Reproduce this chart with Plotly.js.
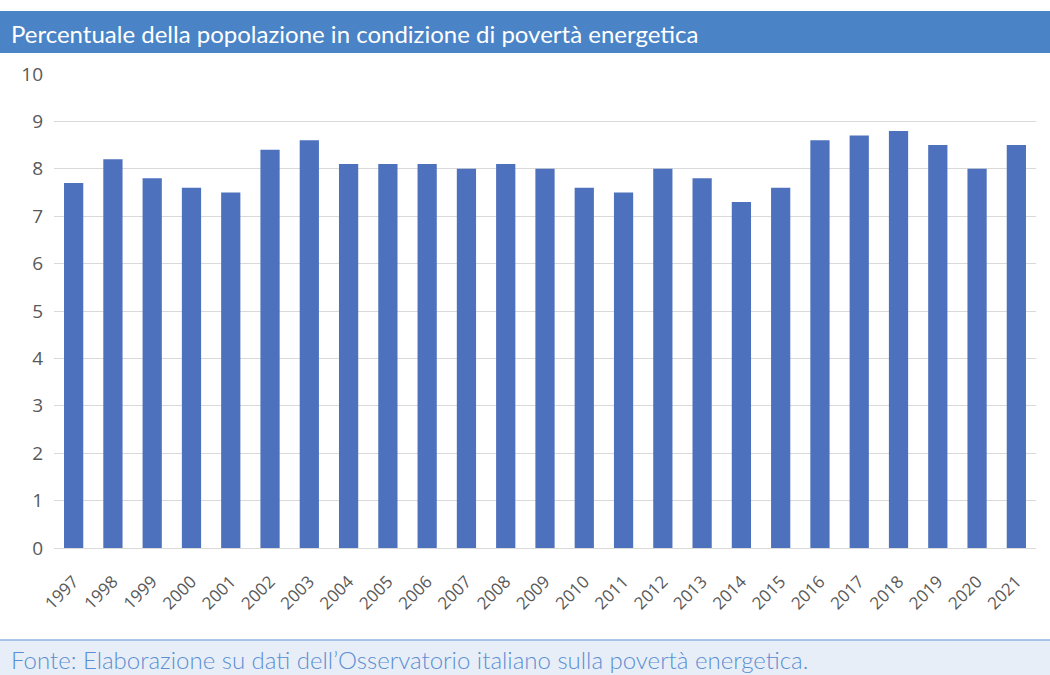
<!DOCTYPE html>
<html>
<head>
<meta charset="utf-8">
<script src="https://cdn.plot.ly/plotly-3.0.1.min.js"></script>
<style>
  html, body { margin: 0; padding: 0; background: #ffffff; }
  #chart { width: 1050px; height: 675px; }
</style>
</head>
<body>
<div id="chart"></div>
<script>
// Anni e percentuale della popolazione in povertà energetica
const years = ['1997','1998','1999','2000','2001','2002','2003','2004','2005','2006',
               '2007','2008','2009','2010','2011','2012','2013','2014','2015','2016',
               '2017','2018','2019','2020','2021'];
const shares = [7.7, 8.2, 7.8, 7.6, 7.5, 8.4, 8.6, 8.1, 8.1, 8.1,
                8.0, 8.1, 8.0, 7.6, 7.5, 8.0, 7.8, 7.3, 7.6, 8.6,
                8.7, 8.8, 8.5, 8.0, 8.5];
const yTicks = [0, 1, 2, 3, 4, 5, 6, 7, 8, 9, 10];

const titleText = 'Percentuale della popolazione in condizione di povertà energetica';
const sourceText = 'Fonte: Elaborazione su dati dell\u2019Osservatorio italiano sulla povertà energetica.';

// plot area in pixels: x 54..1036, y 74..548
const W = 1050, H = 675, L = 54, R = 14, T = 74, B = 127;
const pw = W - L - R, ph = H - T - B;
const px = x => (x - L) / pw;
const py = y => (H - B - y) / ph;

const trace = {
  type: 'bar',
  x: years,
  y: shares,
  marker: { color: '#4e71be', line: { width: 0 } },
  hoverinfo: 'x+y'
};

const layout = {
  width: W,
  height: H,
  margin: { l: L, r: R, t: T, b: B, pad: 0 },
  paper_bgcolor: '#ffffff',
  plot_bgcolor: '#ffffff',
  showlegend: false,
  bargap: 0.51,
  font: { family: 'Open Sans, sans-serif', color: '#595959' },
  xaxis: {
    type: 'category',
    tickangle: -45,
    tickfont: { size: 17, color: '#595959', family: 'Open Sans, sans-serif' },
    showgrid: false,
    showline: true,
    linecolor: '#d9d9d9',
    linewidth: 1,
    ticks: '',
    ticklabelstandoff: 16,
    zeroline: false,
    fixedrange: true
  },
  yaxis: {
    range: [0, 10],
    tickvals: yTicks,
    ticktext: yTicks.map(String),
    tickfont: { size: 19, color: '#595959', family: 'Open Sans, sans-serif' },
    showgrid: true,
    gridcolor: '#d9d9d9',
    gridwidth: 1,
    zeroline: true,
    zerolinecolor: '#d9d9d9',
    showline: false,
    ticks: '',
    ticklabelstandoff: 10,
    fixedrange: true
  },
  shapes: [
    // header band
    { type: 'rect', xref: 'paper', yref: 'paper',
      x0: px(0), x1: px(W), y0: py(53), y1: py(11),
      fillcolor: '#4a84c6', line: { width: 0 }, layer: 'below' },
    // footer band
    { type: 'rect', xref: 'paper', yref: 'paper',
      x0: px(0), x1: px(W), y0: py(H), y1: py(640),
      fillcolor: '#e8eef7', line: { width: 0 }, layer: 'below' },
    { type: 'line', xref: 'paper', yref: 'paper',
      x0: px(0), x1: px(W), y0: py(640), y1: py(640),
      line: { color: '#8fb4e3', width: 1.5 } }
  ],
  annotations: [
    { xref: 'paper', yref: 'paper', x: px(9), y: py(33),
      xanchor: 'left', yanchor: 'middle', showarrow: false,
      text: titleText,
      font: { family: 'Lato, sans-serif', size: 24, color: '#ffffff' } },
    { xref: 'paper', yref: 'paper', x: px(9), y: py(659),
      xanchor: 'left', yanchor: 'middle', showarrow: false,
      text: sourceText,
      font: { family: 'Lato, sans-serif', size: 24, color: '#5a8fd2', weight: 300 } }
  ]
};

Plotly.newPlot('chart', [trace], layout, { displayModeBar: false, staticPlot: true });
</script>
</body>
</html>
